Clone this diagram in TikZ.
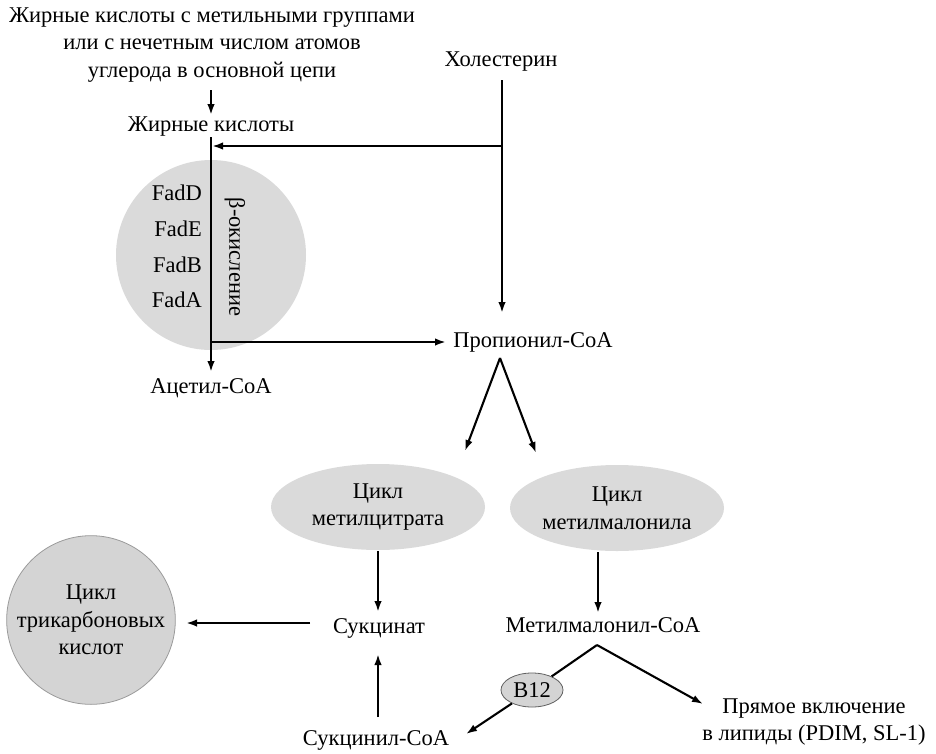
\documentclass[tikz,border=0pt]{standalone}
\usepackage{fontspec}
\setmainfont{Liberation Serif}
\usetikzlibrary{arrows.meta,shapes.geometric}
\definecolor{cfill}{HTML}{DADADA}
\definecolor{tfill}{HTML}{D4D4D4}
\definecolor{tedge}{HTML}{9A9A9A}
\begin{document}
\begin{tikzpicture}[x=1pt,y=-1pt,
  lbl/.style={font=\fontsize{22.5}{27.5}\selectfont, align=center, inner sep=2pt},
  arr/.style={line width=2.6pt, -{Latex[length=11pt,width=7.5pt]}},
  ln/.style={line width=2.6pt},
  thinarr/.style={line width=2.1pt, -{Latex[length=11pt,width=7.5pt]}},
  ell/.style={ellipse, fill=cfill, draw=none, lbl, inner sep=0pt}
  ]
\useasboundingbox (0,0) rectangle (936,753);
% big grey circle for beta-oxidation
\node[circle, fill=cfill, draw=none, minimum size=190pt, inner sep=0pt] (beta) at (211,255) {};
% text nodes
\node[lbl] (src) at (212,45) {Жирные кислоты с метильными группами\\или с нечетным числом атомов\\углерода в основной цепи};
\node[lbl] (fa) at (211,127) {Жирные кислоты};
\node[lbl] (chol) at (501,62) {Холестерин};
\node[lbl] (acetyl) at (211,388) {Ацетил-CoA};
\node[lbl] (prop) at (533,342) {Пропионил-CoA};
\node[lbl, anchor=east] (fadd) at (204,193) {FadD};
\node[lbl, anchor=east] (fade) at (204,229) {FadE};
\node[lbl, anchor=east] (fadb) at (204,265) {FadB};
\node[lbl, anchor=east] (fada) at (204,300) {FadA};
\node[lbl, rotate=-90] (boxy) at (235,257) {β-окисление};
\node[ell, minimum width=214pt, minimum height=86pt] (mc) at (378,507) {Цикл\\метилцитрата};
\node[ell, minimum width=214pt, minimum height=86pt] (mm) at (617,508) {Цикл\\метилмалонила};
\node[lbl] (succ) at (379,628) {Сукцинат};
\node[lbl] (mmcoa) at (603,625) {Метилмалонил-CoA};
\node[circle, fill=tfill, draw=tedge, line width=0.8pt, minimum size=164pt, inner sep=0pt, lbl] (tca) at (91,620) {Цикл\\трикарбоновых\\кислот};
\node[lbl] (succcoa) at (376,740) {Сукцинил-CoA};
\node[ellipse, fill=tfill, draw=gray!75!black, line width=0.8pt, minimum width=62pt, minimum height=34pt, inner sep=0pt, lbl] (b12) at (532,690) {B12};
\node[lbl] (direct) at (814,722) {Прямое включение\\в липиды (PDIM, SL-1)};
% coordinates
\coordinate (fatop) at (211,90);
\coordinate (mainstart) at (211,137);
\coordinate (mainend) at (211,372);
\coordinate (cholstart) at (502,80);
\coordinate (cholend) at (502,313);
\coordinate (j1) at (502,146);
\coordinate (j1end) at (212,146);
\coordinate (j2) at (211,342);
\coordinate (j2end) at (446,342);
\coordinate (pa) at (500,358);
\coordinate (pl) at (465,451);
\coordinate (pr) at (536,453);
\coordinate (mcb) at (378,551);
\coordinate (mcend) at (378,612);
\coordinate (mmb) at (598,552);
\coordinate (mmend) at (598,613);
\coordinate (succw) at (310,623);
\coordinate (tcae) at (186,623);
\coordinate (sca) at (378,717);
\coordinate (scb) at (378,654);
\coordinate (ma) at (597,645);
\coordinate (mr) at (703,704);
\coordinate (ml) at (466,734);
% connectors
\draw[arr] (fatop) -- (fa.north -| fatop);
\draw[arr] (mainstart) -- (mainend);
\draw[ln] (cholstart) -- (j1);
\draw[arr] (j1) -- (cholend);
\draw[arr] (j1) -- (j1end);
\draw[arr] (j2) -- (j2end);
\draw[thinarr] (pa) -- (pl);
\draw[thinarr] (pa) -- (pr);
\draw[arr] (mcb) -- (mcend);
\draw[arr] (mmb) -- (mmend);
\draw[arr] (succw) -- (tcae);
\draw[arr] (sca) -- (scb);
\draw[thinarr] (ma) -- (mr);
\draw[line width=2.1pt] (ma) -- (b12);
\draw[thinarr] (b12) -- (ml);
\end{tikzpicture}
\end{document}
